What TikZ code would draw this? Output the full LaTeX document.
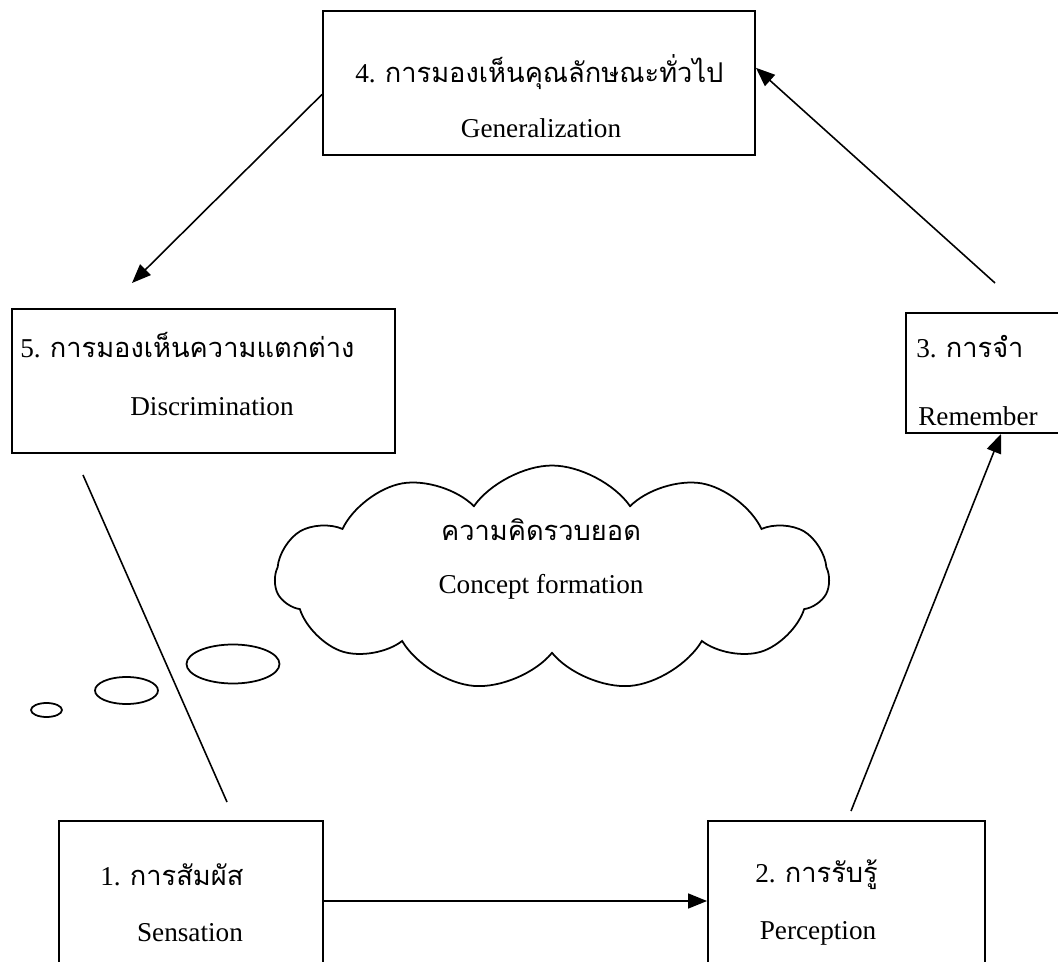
\documentclass[tikz,border=0pt]{standalone}
\usepackage{fontspec}
\setmainfont{Liberation Serif}
\newfontfamily\thaifont[Script=Thai]{Loma}
\usetikzlibrary{shapes.symbols,arrows.meta}

\begin{document}
\begin{tikzpicture}[x=0.02cm, y=-0.02cm, >={Triangle[length=0.38cm, width=0.3cm]}]
        % Style Definitions
        \tikzstyle{stage} = [rectangle, draw, line width=1.1pt, inner sep=0pt]
        \tikzstyle{thaitext} = [inner sep=0pt, anchor=west, font=\fontsize{15.5}{18}\selectfont]
        \tikzstyle{engtext} = [inner sep=0pt, font=\fontsize{15.5}{18}\selectfont]
        \tikzstyle{link} = [line width=0.9pt]
        \tikzstyle{bubble} = [line width=1pt]

        \useasboundingbox (0,0) rectangle (1058,962);
        \clip (0,0) rectangle (1058,962);

        % Boxes
        \node (gen) [stage, minimum width=8.64cm, minimum height=2.88cm] at (539,83) {};
        \node (disc) [stage, minimum width=7.66cm, minimum height=2.88cm] at (203.5,381) {};
        \node (rem) [stage, minimum width=3.88cm, minimum height=2.4cm] at (1003,373) {};
        \node (sens) [stage, minimum width=5.28cm, minimum height=3.2cm] at (191,901) {};
        \node (perc) [stage, minimum width=5.54cm, minimum height=3.2cm] at (846.5,901) {};

        % Texts
        \node (genth) [thaitext] at (355,72) {4. {\thaifont การมองเห็นคุณลักษณะทั่วไป}};
        \node (genen) [engtext] at (541,128) {Generalization};
        \node (discth) [thaitext] at (20,345) {5. {\thaifont การมองเห็นความแตกต่าง}};
        \node (discen) [engtext] at (212,407) {Discrimination};
        \node (remth) [thaitext] at (916,347) {3. {\thaifont การจำ}};
        \node (remen) [engtext] at (978,416) {Remember};
        \node (sensth) [thaitext] at (100,875) {1. {\thaifont การสัมผัส}};
        \node (sensen) [engtext] at (190,933) {Sensation};
        \node (percth) [thaitext] at (755,875) {2. {\thaifont การรับรู้}};
        \node (percen) [engtext] at (818,933) {Perception};

        % Cloud and bubbles
        \node (concept) [cloud, draw, bubble, cloud puffs=11, cloud puff arc=110, aspect=2.4, minimum width=11.08cm, minimum height=4.5cm] at (552,578) {};
        \node (conth) [engtext] at (541,530) {\thaifont ความคิดรวบยอด};
        \node (conen) [engtext] at (541,587) {Concept formation};
        \draw[bubble] (233,664) ellipse [x radius=46.5, y radius=19.5];
        \draw[bubble] (126.5,690.5) ellipse [x radius=31.5, y radius=13.5];
        \draw[bubble] (46.5,710) ellipse [x radius=15.5, y radius=7];

        % Free ends
        \coordinate (remtop) at (995,283);
        \coordinate (disctop) at (132,283);
        \coordinate (discbot) at (83,475);
        \coordinate (senstop) at (227,802);
        \coordinate (perctop) at (851,811);

        % Arrows
        \draw[->, link] (sens.east) -- (perc.west);
        \draw[->, link] (perctop) -- (rem.south -| 1001,0);
        \draw[->, link] (remtop) -- (gen.4);
        \draw[->, link] (gen.183) -- (disctop);
        \draw[link] (discbot) -- (senstop);

    \end{tikzpicture}
\end{document}
